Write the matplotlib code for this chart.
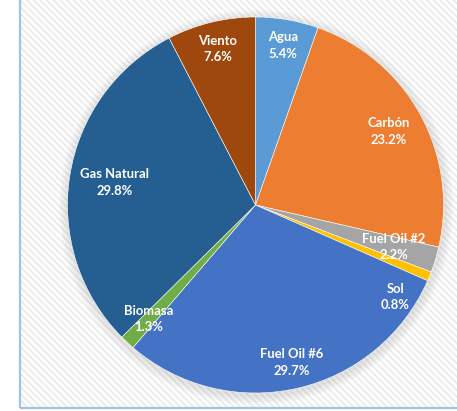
import numpy as np
import matplotlib.pyplot as plt
from matplotlib.patches import Rectangle, Circle

# Generación por fuente (%)
fuentes = ['Agua', 'Carbón', 'Fuel Oil #2', 'Sol', 'Fuel Oil #6',
           'Biomasa', 'Gas Natural', 'Viento']
porcentajes = [5.4, 23.2, 2.2, 0.8, 29.7, 1.3, 29.8, 7.6]
colores = ['#5B9BD5', '#ED7D31', '#A5A5A5', '#FFC000', '#4472C4',
           '#70AD47', '#255E91', '#9E480E']

# where each label sits: fraction of radius, extra angle in degrees
lab_r = [0.86, 0.81, 0.77, 0.89, 0.86, 0.83, 0.76, 0.855]
lab_da = [0, 0, 0, -11, 0, 0, 0, 0]

W, H = 457, 411
cx, cy, R = 255.5, 205.0, 188.0

fig = plt.figure(figsize=(W / 100, H / 100), dpi=100)
fig.patch.set_facecolor('white')

# hatched chart area + light blue frame
plt.rcParams['hatch.color'] = '#EAEAEA'
plt.rcParams['hatch.linewidth'] = 1.3
bg = Rectangle((21 / W, 4 / H), 1, 1, transform=fig.transFigure,
               facecolor='white', hatch='\\' * 5, edgecolor='#EAEAEA',
               linewidth=0, zorder=0)
fig.patches.append(bg)
frame = Rectangle((20 / W, 3 / H), 2, 2, transform=fig.transFigure,
                  fill=False, edgecolor='#9DC3E6', linewidth=1.6, zorder=1)
fig.patches.append(frame)

ax = fig.add_axes([0, 0, 1, 1])
ax.set_zorder(5)
ax.patch.set_alpha(0)

# soft shadow
for i in range(4):
    ax.add_patch(Circle((0.004, -0.012), 1.0 + 0.012 * (i + 1),
                        color='#808080', alpha=0.05, lw=0, zorder=1))

wedges, _ = ax.pie(porcentajes, colors=colores, startangle=90,
                   counterclock=False, radius=1.0,
                   wedgeprops=dict(edgecolor='white', linewidth=0.4, zorder=2))

for w, nom, p, r, da in zip(wedges, fuentes, porcentajes, lab_r, lab_da):
    ang = np.deg2rad((w.theta1 + w.theta2) / 2 + da)
    x, y = r * np.cos(ang), r * np.sin(ang)
    ax.text(x, y, f'{nom}\n{p:.1f}%', ha='center', va='center',
            color='white', fontsize=9.4, fontweight='bold', family='Lato',
            linespacing=1.45, zorder=5)

ax.set_aspect('auto')
ax.set_xlim((0 - cx) / R, (W - cx) / R)
ax.set_ylim((cy - H) / R, (cy - 0) / R)
ax.axis('off')

fig.savefig('out.png', dpi=100)
